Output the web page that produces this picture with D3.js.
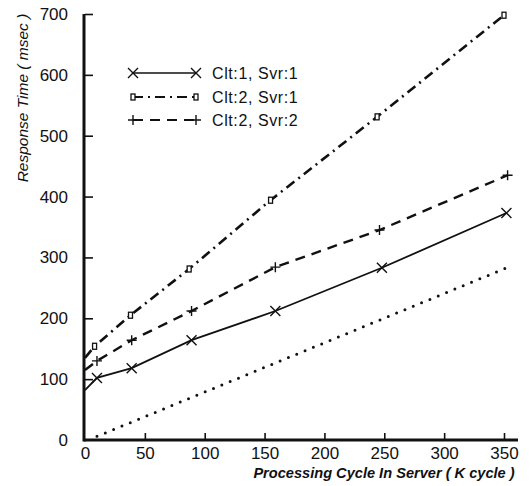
<!DOCTYPE html>
<html><head><meta charset="utf-8">
<script src="https://cdn.jsdelivr.net/npm/d3@7"></script>
<style>body{margin:0;background:#fff}svg{display:block}</style>
</head><body>
<script>
const xTicks = [0, 50, 100, 150, 200, 250, 300, 350];
const yTicks = [0, 100, 200, 300, 400, 500, 600, 700];
const s1x = [0, 10, 39, 89, 159, 248, 352];
const s1y = [82, 102, 118, 164, 212, 283, 373];
const s2x = [0, 8, 38, 87, 155, 244, 350];
const s2y = [135, 154, 205, 281, 394, 531, 698];
const s3x = [0, 10, 39, 89, 159, 246, 353];
const s3y = [115, 130, 164, 212, 284, 345, 435];
const s4x = [10, 356];
const s4y = [6, 286];
const legendLabels = ["Clt:1, Svr:1", "Clt:2, Svr:1", "Clt:2, Svr:2"];
const xTitle = "Processing Cycle In Server ( K cycle )";
const yTitle = "Response Time ( msec )";

const W = 530, H = 486;
const svg = d3.select("body").append("svg").attr("width", W).attr("height", H);
const x = d3.scaleLinear().domain([0, 350]).range([85, 504]);
const y = d3.scaleLinear().domain([0, 700]).range([440, 14]);
const ink = "#111";
const font = "'Liberation Sans', Arial, sans-serif";

// axes
const gx = svg.append("g").attr("transform", "translate(0,440)")
  .call(d3.axisBottom(x).tickValues(xTicks).tickSize(-7).tickPadding(7).tickFormat(d3.format("d")));
const gy = svg.append("g").attr("transform", "translate(85,0)")
  .call(d3.axisLeft(y).tickValues(yTicks).tickSize(-8).tickPadding(17).tickFormat(d3.format("d")));
[gx, gy].forEach(g => {
  g.select(".domain").remove();
  g.selectAll(".tick line").attr("stroke", ink).attr("stroke-width", 1.6);
  g.selectAll(".tick text").attr("fill", ink).style("font-family", font).style("font-size", "17px");
});
gx.selectAll(".tick").filter(d => d === 0).select("line").remove();
gy.selectAll(".tick").filter(d => d === 0).select("line").remove();
svg.append("line").attr("x1", 84).attr("x2", 518).attr("y1", 440).attr("y2", 440)
  .attr("stroke", ink).attr("stroke-width", 3);
svg.append("line").attr("x1", 84).attr("x2", 84).attr("y1", 14).attr("y2", 441.5)
  .attr("stroke", ink).attr("stroke-width", 3);

// titles
svg.append("text").attr("x", 384).attr("y", 478).attr("text-anchor", "middle")
  .style("font-family", font).style("font-size", "14.6px").style("font-style", "italic").style("font-weight", "bold")
  .attr("fill", ink).text(xTitle);
svg.append("text").attr("transform", "translate(28,98) rotate(-90)").attr("text-anchor", "middle")
  .style("font-family", font).style("font-size", "15.5px").style("font-style", "italic")
  .attr("fill", ink).text(yTitle);

const line = d3.line().x(d => x(d[0])).y(d => y(d[1]));
const zip = (a, b) => a.map((v, i) => [v, b[i]]);
const series = [
  {pts: zip(s1x, s1y), dash: null, w: 1.8, mk: "x"},
  {pts: zip(s2x, s2y), dash: "10,5,2,5", w: 2.6, mk: "sq"},
  {pts: zip(s3x, s3y), dash: "10,7", w: 2.4, mk: "plus"}
];

function marker(g, mk, cx, cy) {
  if (mk === "x") {
    g.append("path").attr("d", `M${cx-5},${cy-5}L${cx+5},${cy+5}M${cx-5},${cy+5}L${cx+5},${cy-5}`)
      .attr("stroke", ink).attr("stroke-width", 1.4).attr("fill", "none");
  } else if (mk === "sq") {
    g.append("rect").attr("x", cx-2).attr("y", cy-3).attr("width", 4).attr("height", 6)
      .attr("stroke", ink).attr("stroke-width", 1.3).attr("fill", "#fff");
  } else {
    g.append("path").attr("d", `M${cx-5},${cy}L${cx+5},${cy}M${cx},${cy-5}L${cx},${cy+5}`)
      .attr("stroke", ink).attr("stroke-width", 1.4).attr("fill", "none");
  }
}

series.forEach(s => {
  svg.append("path").datum(s.pts).attr("d", line).attr("fill", "none")
    .attr("stroke", ink).attr("stroke-width", s.w).attr("stroke-dasharray", s.dash);
  const g = svg.append("g");
  s.pts.slice(1).forEach(p => marker(g, s.mk, x(p[0]), y(p[1])));
});

// dotted line
svg.append("path").datum(zip(s4x, s4y)).attr("d", line).attr("fill", "none")
  .attr("stroke", ink).attr("stroke-width", 3).attr("stroke-linecap", "round")
  .attr("stroke-dasharray", "0,9");

// legend
const ly = [73, 97, 120];
series.forEach((s, i) => {
  svg.append("line").attr("x1", 133).attr("x2", 196).attr("y1", ly[i]).attr("y2", ly[i])
    .attr("stroke", ink).attr("stroke-width", s.w - 0.4).attr("stroke-dasharray", s.dash);
  const g = svg.append("g");
  marker(g, s.mk, 133, ly[i]);
  marker(g, s.mk, 196, ly[i]);
  svg.append("text").attr("x", 212).attr("y", ly[i] + 6)
    .style("font-family", font).style("font-size", "16px").style("letter-spacing", "0.6px")
    .attr("fill", ink).text(legendLabels[i]);
});
</script>
</body></html>
